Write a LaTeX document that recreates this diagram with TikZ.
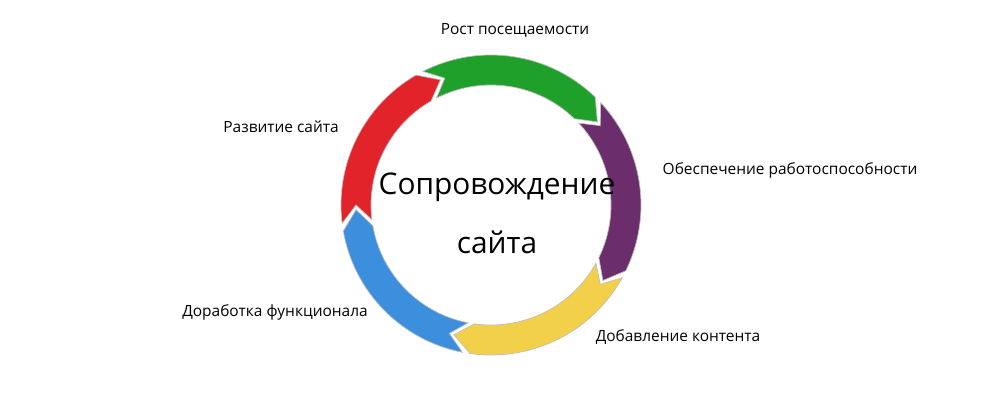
\documentclass[tikz,border=0pt]{standalone}
\usepackage{fontspec}
\setmainfont{Open Sans}
\begin{document}
\begin{tikzpicture}[x=0.02cm,y=0.02cm,
  lbl/.style={font=\fontsize{8.8}{11}\selectfont},
  seg/.style={draw=black!25,line width=0.4pt}]
\useasboundingbox (0,0) rectangle (1000,400);
\definecolor{cg}{HTML}{1FA02A}\definecolor{cp}{HTML}{6B2D6B}
\definecolor{cy}{HTML}{F2D04A}\definecolor{cb}{HTML}{3B8FDC}
\definecolor{cr}{HTML}{E2232A}
\begin{scope}[shift={(491,195)}]
\foreach \s/\e/\c in {117/46/cg, 43/-26/cp, -29/-98/cy, -101/-170/cb, 187/120/cr}{
  \pgfmathsetmacro\eh{\e-8}\pgfmathsetmacro\sn{\s-7}
  \fill[\c,seg] (\s:150) arc[start angle=\s,end angle=\e,radius=150] -- (\eh:135)
    -- (\e:120) arc[start angle=\e,end angle=\s,radius=120] -- (\sn:135) -- cycle;
}
\end{scope}
\node[lbl] (a) at (515,370) {Рост посещаемости};
\node[lbl] (b) at (790,230) {Обеспечение работоспособности};
\node[lbl] (c) at (678,63) {Добавление контента};
\node[lbl] (d) at (275,88) {Доработка функционала};
\node[lbl] (e) at (281,273) {Развитие сайта};
\node[font=\fontsize{17}{20}\selectfont] (t1) at (497,213) {Сопровождение};
\node[font=\fontsize{17}{20}\selectfont] (t2) at (497,158) {сайта};
\end{tikzpicture}
\end{document}
